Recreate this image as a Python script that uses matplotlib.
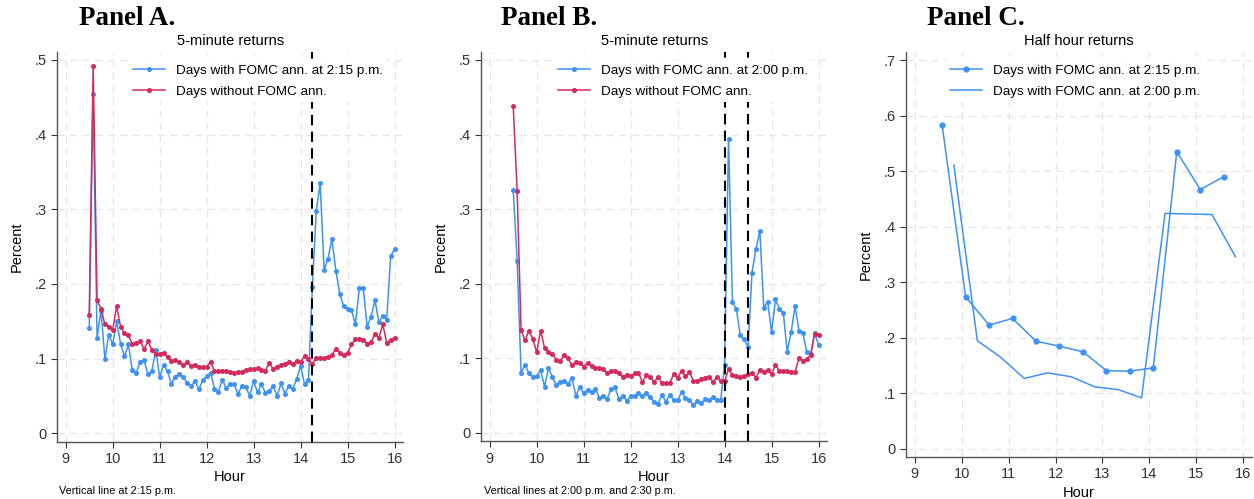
import matplotlib.pyplot as plt
import numpy as np

plt.rcParams['font.family'] = ['Liberation Sans', 'DejaVu Sans']

BLUE = '#3d92f5'
RED = '#d42a5e'

# 5-minute grid, 9:30 to 16:00
hours_5m = 9.5 + np.arange(79) / 12

a_fomc_215 = [0.141, 0.455, 0.128, 0.164, 0.100, 0.132, 0.119, 0.150, 0.120, 0.103,
              0.119, 0.085, 0.081, 0.096, 0.098, 0.079, 0.083, 0.112, 0.075, 0.092,
              0.083, 0.066, 0.076, 0.079, 0.075, 0.068, 0.063, 0.070, 0.059, 0.071,
              0.077, 0.081, 0.060, 0.056, 0.071, 0.061, 0.066, 0.066, 0.053, 0.063,
              0.062, 0.050, 0.070, 0.055, 0.066, 0.054, 0.057, 0.063, 0.050, 0.067,
              0.053, 0.064, 0.059, 0.073, 0.090, 0.066, 0.071, 0.196, 0.298, 0.335,
              0.219, 0.234, 0.260, 0.218, 0.187, 0.170, 0.166, 0.165, 0.146, 0.194,
              0.195, 0.143, 0.156, 0.178, 0.149, 0.157, 0.152, 0.237, 0.247]
a_no_fomc = [0.159, 0.492, 0.178, 0.167, 0.146, 0.143, 0.139, 0.170, 0.143, 0.134,
             0.132, 0.119, 0.121, 0.123, 0.113, 0.123, 0.112, 0.106, 0.106, 0.108,
             0.102, 0.097, 0.098, 0.095, 0.092, 0.096, 0.090, 0.092, 0.089, 0.089,
             0.089, 0.096, 0.083, 0.083, 0.083, 0.083, 0.082, 0.081, 0.082, 0.082,
             0.085, 0.086, 0.086, 0.087, 0.085, 0.084, 0.094, 0.086, 0.089, 0.092,
             0.093, 0.096, 0.093, 0.097, 0.095, 0.104, 0.099, 0.093, 0.101, 0.101,
             0.101, 0.102, 0.105, 0.113, 0.108, 0.105, 0.108, 0.119, 0.126, 0.126,
             0.125, 0.120, 0.122, 0.133, 0.128, 0.146, 0.121, 0.125, 0.128]

b_fomc_200 = [0.325, 0.231, 0.081, 0.091, 0.080, 0.075, 0.076, 0.084, 0.062, 0.087,
              0.075, 0.064, 0.068, 0.070, 0.066, 0.073, 0.050, 0.061, 0.053, 0.058,
              0.055, 0.059, 0.047, 0.049, 0.046, 0.059, 0.061, 0.045, 0.050, 0.043,
              0.049, 0.050, 0.053, 0.049, 0.053, 0.048, 0.041, 0.039, 0.051, 0.042,
              0.051, 0.044, 0.044, 0.055, 0.047, 0.044, 0.037, 0.043, 0.040, 0.045,
              0.044, 0.048, 0.044, 0.044, 0.091, 0.394, 0.175, 0.166, 0.131, 0.126,
              0.115, 0.215, 0.246, 0.271, 0.168, 0.176, 0.135, 0.179, 0.166, 0.161,
              0.109, 0.135, 0.170, 0.137, 0.134, 0.108, 0.106, 0.134, 0.118]
b_no_fomc = [0.438, 0.324, 0.138, 0.124, 0.137, 0.126, 0.108, 0.137, 0.114, 0.109,
             0.106, 0.098, 0.096, 0.104, 0.100, 0.091, 0.095, 0.094, 0.089, 0.094,
             0.090, 0.087, 0.087, 0.086, 0.080, 0.083, 0.083, 0.080, 0.075, 0.078,
             0.076, 0.080, 0.081, 0.068, 0.077, 0.075, 0.068, 0.075, 0.067, 0.067,
             0.067, 0.079, 0.074, 0.083, 0.076, 0.082, 0.070, 0.070, 0.072, 0.074,
             0.075, 0.068, 0.075, 0.069, 0.069, 0.086, 0.077, 0.076, 0.075, 0.076,
             0.079, 0.080, 0.074, 0.084, 0.082, 0.084, 0.079, 0.091, 0.083, 0.083,
             0.083, 0.082, 0.082, 0.100, 0.097, 0.099, 0.105, 0.133, 0.131]

# half hour returns
c_hours_215 = 9 + 7 / 12 + 0.5 * np.arange(13)
c_fomc_215 = [0.583, 0.274, 0.223, 0.235, 0.194, 0.185, 0.175, 0.141, 0.140,
              0.146, 0.535, 0.467, 0.490]
c_hours_200 = 9 + 10 / 12 + 0.5 * np.arange(13)
c_fomc_200 = [0.511, 0.195, 0.165, 0.127, 0.137, 0.130, 0.112, 0.107, 0.092,
              0.424, 0.423, 0.422, 0.346]

W, H = 1254, 499
fig = plt.figure(figsize=(W / 100, H / 100), dpi=100)


def px_axes(x0, x1, y_top, y_bot):
    return fig.add_axes([x0 / W, 1 - y_bot / H, (x1 - x0) / W, (y_bot - y_top) / H])


def style(ax, yticks, ylabels, ylim):
    ax.set_xlim(8.82, 16.18)
    ax.set_ylim(*ylim)
    ax.set_xticks(range(9, 17))
    ax.set_yticks(yticks)
    ax.set_yticklabels(ylabels)
    for s in ('top', 'right'):
        ax.spines[s].set_visible(False)
    for s in ('left', 'bottom'):
        ax.spines[s].set_color('#555555')
        ax.spines[s].set_linewidth(1.0)
    ax.tick_params(labelsize=10.5, colors='#333333', length=4, width=0.8)
    ax.grid(True, color='#e6e6e6', linestyle=(0, (6, 4)), linewidth=0.9)
    ax.set_axisbelow(True)
    ax.set_xlabel('Hour', fontsize=10.5, labelpad=3)
    ax.set_ylabel('Percent', fontsize=10.5, labelpad=8)


def legend(ax, x0):
    leg = ax.legend(loc='upper left', bbox_to_anchor=(x0, 0.995), frameon=True,
                    fontsize=9.7, handlelength=2.4, handletextpad=0.8,
                    labelspacing=0.65, borderpad=0.3, fancybox=False)
    leg.get_frame().set_facecolor('white')
    leg.get_frame().set_edgecolor('none')
    leg.get_frame().set_alpha(1)


def panel_label(x, text):
    fig.text(x / W, 1 - 25 / H, text, family='Liberation Serif', weight='bold',
             fontsize=19.5, va='baseline')


y5 = [0, 0.1, 0.2, 0.3, 0.4, 0.5]
y5_lab = ['0', '.1', '.2', '.3', '.4', '.5']
line_kw = dict(linewidth=1.1, marker='o', markersize=2.6)
vline_kw = dict(color='black', linestyle=(0, (5, 3)), linewidth=1.5)

# Panel A
axA = px_axes(57.3, 403, 51.7, 441.7)
axA.plot(hours_5m, a_fomc_215, color=BLUE, label='Days with FOMC ann. at 2:15 p.m.', **line_kw)
axA.plot(hours_5m, a_no_fomc, color=RED, label='Days without FOMC ann.', **line_kw)
axA.axvline(14.25, **vline_kw)
style(axA, y5, y5_lab, (-0.0112, 0.511))
axA.set_title('5-minute returns', fontsize=10.5, pad=5)
legend(axA, 0.187)
panel_label(79, 'Panel A.')
fig.text(59 / W, 1 - 491 / H, 'Vertical line at 2:15 p.m.', fontsize=7.8, va='center')

# Panel B
axB = px_axes(481.3, 827, 51.7, 441.3)
axB.plot(hours_5m, b_fomc_200, color=BLUE, label='Days with FOMC ann. at 2:00 p.m.', **line_kw)
axB.plot(hours_5m, b_no_fomc, color=RED, label='Days without FOMC ann.', **line_kw)
axB.axvline(14.0, **vline_kw)
axB.axvline(14.5, **vline_kw)
style(axB, y5, y5_lab, (-0.0112, 0.511))
axB.set_title('5-minute returns', fontsize=10.5, pad=5)
legend(axB, 0.19)
panel_label(501, 'Panel B.')
fig.text(484 / W, 1 - 491 / H, 'Vertical lines at 2:00 p.m. and 2:30 p.m.', fontsize=7.8,
         va='center')

# Panel C
axC = px_axes(906.3, 1251.7, 51.7, 457)
axC.plot(c_hours_215, c_fomc_215, color=BLUE, linewidth=1.1, marker='o', markersize=3.5,
         label='Days with FOMC ann. at 2:15 p.m.')
axC.plot(c_hours_200, c_fomc_200, color=BLUE, linewidth=1.1,
         label='Days with FOMC ann. at 2:00 p.m.')
style(axC, [0, 0.1, 0.2, 0.3, 0.4, 0.5, 0.6, 0.7],
      ['0', '.1', '.2', '.3', '.4', '.5', '.6', '.7'], (-0.0144, 0.715))
axC.set_title('Half hour returns', fontsize=10.5, pad=5)
legend(axC, 0.094)
panel_label(927, 'Panel C.')

fig.savefig('out.png', dpi=100)
